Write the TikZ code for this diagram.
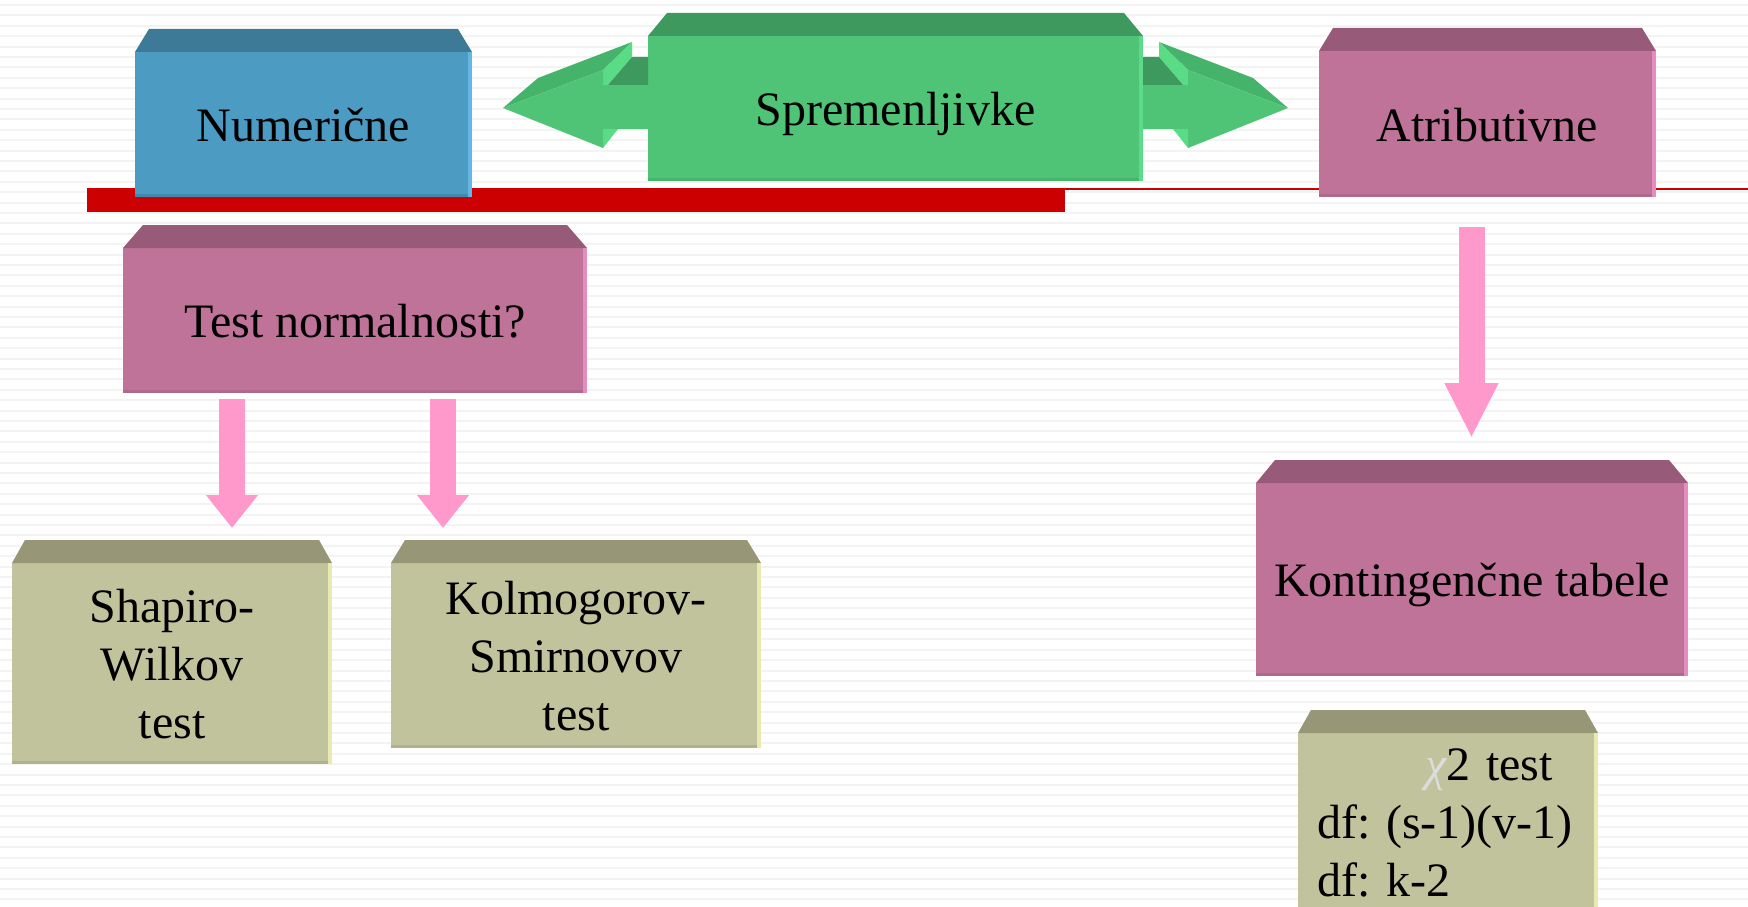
\documentclass[tikz,border=0pt]{standalone}
\usepackage{fontspec}
\setmainfont{Liberation Serif}
\usepackage{tikz}
\usetikzlibrary{positioning, arrows.meta}
\frenchspacing

\definecolor{bluF}{HTML}{4B9BC3}
\definecolor{bluT}{HTML}{3D7A98}
\definecolor{bluL}{HTML}{63B6E6}
\definecolor{bluD}{HTML}{4289AE}
\definecolor{pnkF}{HTML}{C07398}
\definecolor{pnkT}{HTML}{975A78}
\definecolor{pnkL}{HTML}{E48DBE}
\definecolor{pnkD}{HTML}{B0688B}
\definecolor{olvF}{HTML}{C1C39C}
\definecolor{olvT}{HTML}{979777}
\definecolor{olvL}{HTML}{E9EAB0}
\definecolor{olvD}{HTML}{B0B28E}
\definecolor{grnF}{HTML}{4FC376}
\definecolor{grnT}{HTML}{3D995D}
\definecolor{grnH}{HTML}{46B36B}
\definecolor{grnB}{HTML}{5ADC87}
\definecolor{grnL}{HTML}{5EDA8B}
\definecolor{grnD}{HTML}{47B46C}
\definecolor{arrpink}{HTML}{FF99CC}
\definecolor{barred}{HTML}{CC0000}
\definecolor{chigray}{HTML}{DCDCDC}
\definecolor{stripe}{HTML}{F3F3F3}

\tikzset{
  cubeface/.style={rectangle, inner sep=0pt, outer sep=0pt, align=center, fill=#1},
  oneline/.style={text height=34pt, text depth=0pt},
  threeline/.style={text height=150pt, text depth=0pt},
  pinkarrow/.style={draw=arrpink, line width=26pt, -{Triangle[length=33pt, width=50pt]}}
}

\begin{document}
\begin{tikzpicture}[x=1pt, y=-1pt, font=\fontsize{48}{58}\selectfont]
		% Background
		\fill[white] (0,0) rectangle (1748,907);
		\foreach \yy in {4,14.4,...,907} \fill[stripe] (0,\yy) rectangle (1748,\yy+2);
		\useasboundingbox (0,0) rectangle (1748,907);
		
		% Red bar
		\fill[barred] (87,188) rectangle (1065,212);
		\fill[barred] (1065,188) rectangle (1748,190);
		
		% Nodes
		\node[cubeface=bluF, oneline, minimum width=337pt, minimum height=145pt] (num) at (303.5,124.5) {Numerične};
		\node[cubeface=grnF, oneline, minimum width=495pt, minimum height=145pt] (spr) at (895.5,108.5) {Spremenljivke};
		\node[cubeface=pnkF, oneline, minimum width=337pt, minimum height=146pt] (atr) at (1487.5,124) {Atributivne};
		\node[cubeface=pnkF, oneline, minimum width=464pt, minimum height=145pt] (tst) at (355,320.5) {Test normalnosti?};
		\node[cubeface=olvF, threeline, minimum width=320pt, minimum height=201pt] (shw) at (172,663.5) {Shapiro-\\Wilkov\\test};
		\node[cubeface=olvF, threeline, minimum width=370pt, minimum height=185pt] (kol) at (576,655.5) {Kolmogorov-\\Smirnovov\\test};
		\node[cubeface=pnkF, oneline, minimum width=432pt, minimum height=193pt] (kon) at (1472,579.5) {Kontingenčne tabele};
		\node[cubeface=olvF, anchor=north west, text width=262pt, align=left, inner xsep=19pt, inner ysep=14pt,
			text height=33pt, text depth=200pt] (chi) at (1298,733)
			{\mbox{\hspace*{108pt}{\color{chigray}\itshape χ}2 test}\\\mbox{df: (s-1)(v-1)}\\\mbox{df: k-2}};
		
		% Top faces and edges
		\foreach \n/\ct/\cl/\cd/\ins in {num/bluT/bluL/bluD/14, spr/grnT/grnL/grnD/19, atr/pnkT/pnkL/pnkD/14, tst/pnkT/pnkL/pnkD/20, shw/olvT/olvL/olvD/13, kol/olvT/olvL/olvD/14, kon/pnkT/pnkL/pnkD/19, chi/olvT/olvL/olvD/13} {
			\fill[\ct] (\n.north west) -- ([shift={(\ins,-23)}]\n.north west) -- ([shift={(-\ins,-23)}]\n.north east) -- (\n.north east) -- cycle;
			\fill[\cl] ([shift={(-4,0)}]\n.north east) rectangle (\n.south east);
			\fill[\cd] ([shift={(0,-3)}]\n.south west) rectangle ([shift={(-4,0)}]\n.south east);
		}
		
		% Double arrow
		\foreach \s in {1,-1} {
			\begin{scope}[shift={(spr.center)}, xscale=\s]
				\fill[grnH] (-392.5,-0.5) -- (-357.5,-30.5) -- (-263.5,-66.5) -- (-292.5,-38.5) -- cycle;
				\fill[grnB] (-263.5,-66.5) -- (-263.5,-51.5) -- (-287.5,-23.5) -- (-292.5,-23.5) -- (-292.5,-38.5) -- cycle;
				\fill[grnT] (-263.5,-51.5) -- (-247.5,-51.5) -- (-247.5,-23.5) -- (-287.5,-23.5) -- cycle;
				\fill[grnF] (-392.5,-0.5) -- (-292.5,-38.5) -- (-292.5,-23.5) -- (-247.5,-23.5) -- (-247.5,20.5) -- (-292.5,20.5) -- (-292.5,39.5) -- cycle;
				\fill[grnB] (-292.5,20.5) -- (-277.5,20.5) -- (-292.5,39.5) -- cycle;
			\end{scope}
		}
		
		% Arrows
		\draw[pinkarrow] ([shift={(-123,6)}]tst.south) -- ([shift={(60,-35)}]shw.north);
		\draw[pinkarrow] ([shift={(88,6)}]tst.south) -- ([shift={(-133,-35)}]kol.north);
		\draw[pinkarrow, -{Triangle[length=55pt, width=50pt]}] ([shift={(-16,30)}]atr.south) -- ([shift={(-0.5,-45)}]kon.north);
	\end{tikzpicture}
\end{document}
